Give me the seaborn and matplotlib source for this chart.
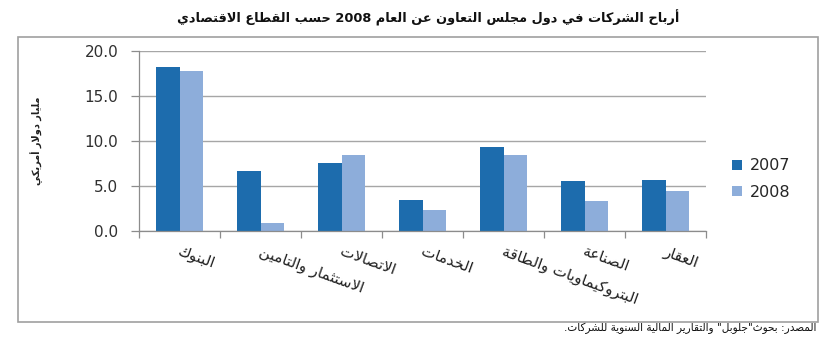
import re
import matplotlib
matplotlib.use("Agg")
import matplotlib.pyplot as plt
from matplotlib.patches import Rectangle
import pandas as pd
import seaborn as sns

# ---------------------------------------------------------------- data
sectors = ["البنوك", "الاستثمار والتامين", "الاتصالات", "الخدمات",
           "البتروكيماويات والطاقة", "الصناعة", "العقار"]
years = ["2007", "2008"]
profits_2007 = [18.2, 6.7, 7.6, 3.5, 9.3, 5.6, 5.7]
profits_2008 = [17.8, 0.9, 8.4, 2.3, 8.4, 3.3, 4.4]
yticks = [0.0, 5.0, 10.0, 15.0, 20.0]

title = "أرباح الشركات في دول مجلس التعاون عن العام 2008 حسب القطاع الاقتصادي"
ylabel = "مليار دولار أمريكي"
source = 'المصدر: بحوث"جلوبل" والتقارير المالية السنوية للشركات.'

# ---------------------------------------------------- arabic shaping
# (isolated, final, initial, medial) presentation forms
FORMS = {
    "ء": ("\uFE80", None, None, None),
    "آ": ("\uFE81", "\uFE82", None, None),
    "أ": ("\uFE83", "\uFE84", None, None),
    "ؤ": ("\uFE85", "\uFE86", None, None),
    "إ": ("\uFE87", "\uFE88", None, None),
    "ئ": ("\uFE89", "\uFE8A", "\uFE8B", "\uFE8C"),
    "ا": ("\uFE8D", "\uFE8E", None, None),
    "ب": ("\uFE8F", "\uFE90", "\uFE91", "\uFE92"),
    "ة": ("\uFE93", "\uFE94", None, None),
    "ت": ("\uFE95", "\uFE96", "\uFE97", "\uFE98"),
    "ث": ("\uFE99", "\uFE9A", "\uFE9B", "\uFE9C"),
    "ج": ("\uFE9D", "\uFE9E", "\uFE9F", "\uFEA0"),
    "ح": ("\uFEA1", "\uFEA2", "\uFEA3", "\uFEA4"),
    "خ": ("\uFEA5", "\uFEA6", "\uFEA7", "\uFEA8"),
    "د": ("\uFEA9", "\uFEAA", None, None),
    "ذ": ("\uFEAB", "\uFEAC", None, None),
    "ر": ("\uFEAD", "\uFEAE", None, None),
    "ز": ("\uFEAF", "\uFEB0", None, None),
    "س": ("\uFEB1", "\uFEB2", "\uFEB3", "\uFEB4"),
    "ش": ("\uFEB5", "\uFEB6", "\uFEB7", "\uFEB8"),
    "ص": ("\uFEB9", "\uFEBA", "\uFEBB", "\uFEBC"),
    "ض": ("\uFEBD", "\uFEBE", "\uFEBF", "\uFEC0"),
    "ط": ("\uFEC1", "\uFEC2", "\uFEC3", "\uFEC4"),
    "ظ": ("\uFEC5", "\uFEC6", "\uFEC7", "\uFEC8"),
    "ع": ("\uFEC9", "\uFECA", "\uFECB", "\uFECC"),
    "غ": ("\uFECD", "\uFECE", "\uFECF", "\uFED0"),
    "ف": ("\uFED1", "\uFED2", "\uFED3", "\uFED4"),
    "ق": ("\uFED5", "\uFED6", "\uFED7", "\uFED8"),
    "ك": ("\uFED9", "\uFEDA", "\uFEDB", "\uFEDC"),
    "ل": ("\uFEDD", "\uFEDE", "\uFEDF", "\uFEE0"),
    "م": ("\uFEE1", "\uFEE2", "\uFEE3", "\uFEE4"),
    "ن": ("\uFEE5", "\uFEE6", "\uFEE7", "\uFEE8"),
    "ه": ("\uFEE9", "\uFEEA", "\uFEEB", "\uFEEC"),
    "و": ("\uFEED", "\uFEEE", None, None),
    "ى": ("\uFEEF", "\uFEF0", None, None),
    "ي": ("\uFEF1", "\uFEF2", "\uFEF3", "\uFEF4"),
}
LAM_ALEF = {
    "آ": ("\uFEF5", "\uFEF6"),
    "أ": ("\uFEF7", "\uFEF8"),
    "إ": ("\uFEF9", "\uFEFA"),
    "ا": ("\uFEFB", "\uFEFC"),
}


def _reshape(text):
    toks = []
    i = 0
    while i < len(text):
        c = text[i]
        if c == "ل" and i + 1 < len(text) and text[i + 1] in LAM_ALEF:
            toks.append(("LA", LAM_ALEF[text[i + 1]]))
            i += 2
        else:
            toks.append((c, FORMS.get(c)))
            i += 1

    def joins_next(t):
        return t[0] != "LA" and t[1] is not None and t[1][2] is not None

    def joins_prev(t):
        return t[1] is not None and t[0] != "ء"

    out = []
    for k, (c, f) in enumerate(toks):
        if f is None:
            out.append(c)
            continue
        pj = k > 0 and joins_next(toks[k - 1])
        if c == "LA":
            out.append(f[1] if pj else f[0])
            continue
        if not joins_prev((c, f)):
            out.append(f[0])
            continue
        nj = f[2] is not None and k + 1 < len(toks) and joins_prev(toks[k + 1])
        if pj and nj:
            out.append(f[3])
        elif pj:
            out.append(f[1])
        elif nj:
            out.append(f[2])
        else:
            out.append(f[0])
    return "".join(out)


def ar(text):
    """Shape Arabic text and put it in visual (left-to-right) order."""
    shaped = _reshape(text)
    runs = re.findall(r"[0-9A-Za-z]+|[^0-9A-Za-z]+", shaped)
    vis = [r if re.match(r"[0-9A-Za-z]", r) else r[::-1] for r in runs]
    return "".join(reversed(vis))


# ---------------------------------------------------------------- table
df = pd.DataFrame({
    "sector": [ar(s) for s in sectors] * 2,
    "year": [years[0]] * len(sectors) + [years[1]] * len(sectors),
    "profit": profits_2007 + profits_2008,
})

# ---------------------------------------------------------------- plot
sns.set_theme(style="white")
plt.rcParams["font.family"] = ["DejaVu Sans"]

W, H = 830, 349
fig = plt.figure(figsize=(W / 100, H / 100), dpi=100)
ax = fig.add_axes([139 / W, 1 - 231 / H, (706 - 139) / W, (231 - 51) / H])

palette = {"2007": "#1d6cad", "2008": "#8dadda"}
sns.barplot(data=df, x="sector", y="profit", hue="year", palette=palette,
            width=0.57, gap=0, saturation=1, linewidth=0, ax=ax, legend=True)

ax.set_ylim(0, 20)
ax.set_xlim(-0.5, len(sectors) - 0.5)
ax.set_yticks(yticks)
ax.set_yticklabels([f"{v:.1f}" for v in yticks], fontsize=11, color="#303030")
ax.yaxis.grid(True, color="#a6a6a6", linewidth=1.0)
ax.set_axisbelow(True)
ax.tick_params(axis="y", direction="out", length=6, width=0.9, color="#8c8c8c", pad=9, left=True)

# category separators on the x axis
ax.set_xticks([x - 0.5 for x in range(len(sectors) + 1)], minor=True)
ax.tick_params(axis="x", which="minor", direction="out", length=5, width=0.9, color="#8c8c8c", bottom=True)
ax.tick_params(axis="x", which="major", length=0)
ax.set_xticklabels([])
for i, s in enumerate(sectors):
    ax.annotate(ar(s), xy=(i, 0), xycoords=("data", "axes fraction"),
                xytext=(1, -9), textcoords="offset points",
                rotation=-20, rotation_mode="anchor", ha="left", va="top",
                fontsize=11, color="#202020")

for side in ["top", "right"]:
    ax.spines[side].set_visible(False)
for side in ["left", "bottom"]:
    ax.spines[side].set_color("#8c8c8c")
    ax.spines[side].set_linewidth(0.9)
ax.set_xlabel("")
ax.set_ylabel("")

leg = ax.legend(loc="center left", bbox_to_anchor=(718 / W, 1 - 179 / H),
                bbox_transform=fig.transFigure, frameon=False, fontsize=11.5,
                handlelength=0.6, handleheight=0.6, handletextpad=0.5,
                labelspacing=0.7)

fig.text(37 / W, 1 - 141 / H, ar(ylabel), rotation=90, ha="center", va="center",
         fontsize=7, fontweight="bold", color="#202020")
fig.text(428 / W, 1 - 18 / H, ar(title), ha="center", va="center",
         fontsize=9.3, fontweight="bold", color="#111111")
fig.text(816 / W, 1 - 328 / H, ar(source), ha="right", va="center",
         fontsize=7.6, color="#111111")

fig.patches.append(Rectangle((18 / W, 1 - 322 / H), 800 / W, 285 / H,
                             transform=fig.transFigure, fill=False,
                             edgecolor="#a0a0a0", linewidth=1.2))

fig.savefig("out.png", dpi=100, facecolor="white")
